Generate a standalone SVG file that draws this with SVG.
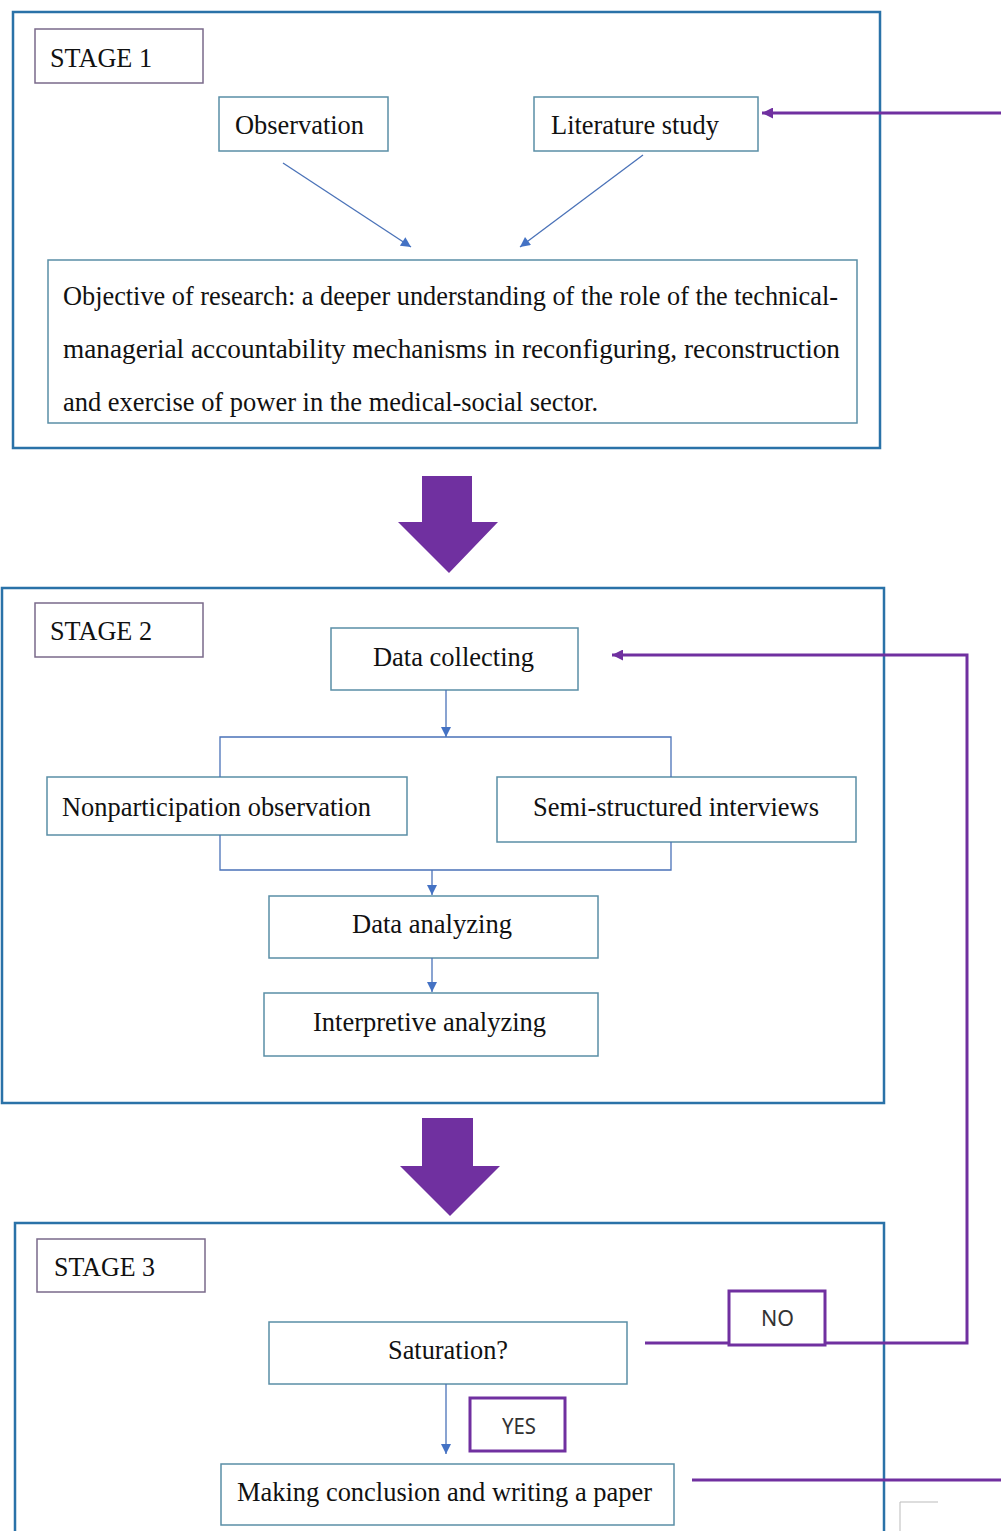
<svg xmlns="http://www.w3.org/2000/svg" width="1001" height="1531" viewBox="0 0 1001 1531">
<style>
  .stage{fill:none;stroke:#2a72a8;stroke-width:2.5}
  .lbl{fill:#fff;stroke:#7a6a8a;stroke-width:1.5}
  .node{fill:#fff;stroke:#5a8ea6;stroke-width:1.5}
  .yn{fill:#fff;stroke:#7030a0;stroke-width:3}
  .t{font-family:"Liberation Serif","Times New Roman",serif;font-size:27px;fill:#111}
  .s{font-family:"Noto Sans","Open Sans",sans-serif;font-size:22px;fill:#333}
  .con{fill:none;stroke:#4a72b8;stroke-width:1.3}
  .pur{fill:none;stroke:#7030a0;stroke-width:3}
  .big{fill:#7030a0}
</style>
<defs>
  <marker id="ab" viewBox="0 0 10 10" refX="10" refY="5" markerUnits="userSpaceOnUse" markerWidth="13" markerHeight="10" orient="auto">
    <path d="M0,0 L10,5 L0,10 z" fill="#4472c4"/>
  </marker>
  <marker id="ap" viewBox="0 0 10 10" refX="10" refY="5" markerUnits="userSpaceOnUse" markerWidth="14" markerHeight="11" orient="auto">
    <path d="M0,0 L10,5 L0,10 z" fill="#7030a0"/>
  </marker>
</defs>
<rect width="1001" height="1531" fill="#fff"/>

<g id="stage1">
  <rect class="stage" x="13" y="12" width="867" height="436"/>
  <g id="stage1-label"><rect class="lbl" x="35" y="29" width="168" height="54"/><text class="t" x="50" y="67" textLength="102" lengthAdjust="spacingAndGlyphs">STAGE 1</text></g>
  <g id="observation"><rect class="node" x="219" y="97" width="169" height="54"/><text class="t" x="235" y="134" textLength="129" lengthAdjust="spacingAndGlyphs">Observation</text></g>
  <g id="literature"><rect class="node" x="534" y="97" width="224" height="54"/><text class="t" x="551" y="134" textLength="168" lengthAdjust="spacingAndGlyphs">Literature study</text></g>
  <g id="objective"><rect class="node" x="48" y="260" width="809" height="163"/>
    <text class="t" x="63" y="305" font-size="25" textLength="775" lengthAdjust="spacingAndGlyphs">Objective of research: a deeper understanding of the role of the technical-</text>
    <text class="t" x="63" y="358" font-size="25" textLength="777" lengthAdjust="spacingAndGlyphs">managerial  accountability  mechanisms  in  reconfiguring,  reconstruction</text>
    <text class="t" x="63" y="411" font-size="25" textLength="535" lengthAdjust="spacingAndGlyphs">and exercise of power in the medical-social sector.</text>
  </g>
</g>

<g id="bigarrow1"><path class="big" d="M422,476 H472 V522 H498 L449,573 L398,522 H422 Z"/></g>

<g id="stage2">
  <rect class="stage" x="2" y="588" width="882" height="515"/>
  <g id="stage2-label"><rect class="lbl" x="35" y="603" width="168" height="54"/><text class="t" x="50" y="640" textLength="102" lengthAdjust="spacingAndGlyphs">STAGE 2</text></g>
  <g id="data-collecting"><rect class="node" x="331" y="628" width="247" height="62"/><text class="t" x="373" y="666" textLength="161" lengthAdjust="spacingAndGlyphs">Data collecting</text></g>
  <g id="nonparticipation"><rect class="node" x="47" y="777" width="360" height="58"/><text class="t" x="62" y="816" textLength="309" lengthAdjust="spacingAndGlyphs">Nonparticipation observation</text></g>
  <g id="semi-structured"><rect class="node" x="497" y="777" width="359" height="65"/><text class="t" x="533" y="816" textLength="286" lengthAdjust="spacingAndGlyphs">Semi-structured interviews</text></g>
  <g id="data-analyzing"><rect class="node" x="269" y="896" width="329" height="62"/><text class="t" x="352" y="933" textLength="160" lengthAdjust="spacingAndGlyphs">Data analyzing</text></g>
  <g id="interpretive"><rect class="node" x="264" y="993" width="334" height="63"/><text class="t" x="313" y="1031" textLength="233" lengthAdjust="spacingAndGlyphs">Interpretive analyzing</text></g>
</g>

<g id="bigarrow2"><path class="big" d="M422,1118 H473 V1166 H500 L450,1216 L400,1166 H422 Z"/></g>

<g id="stage3">
  <rect class="stage" x="15" y="1223" width="869" height="400"/>
  <g id="stage3-label"><rect class="lbl" x="37" y="1239" width="168" height="53"/><text class="t" x="54" y="1276" textLength="101" lengthAdjust="spacingAndGlyphs">STAGE 3</text></g>
  <g id="saturation"><rect class="node" x="269" y="1322" width="358" height="62"/><text class="t" x="388" y="1359" textLength="120" lengthAdjust="spacingAndGlyphs">Saturation?</text></g>
  <g id="conclusion"><rect class="node" x="221" y="1464" width="453" height="61"/><text class="t" x="237" y="1501" textLength="415" lengthAdjust="spacingAndGlyphs">Making conclusion and writing a paper</text></g>
</g>

<g id="connectors">
  <line class="con" x1="283" y1="163" x2="411" y2="247" marker-end="url(#ab)"/>
  <line class="con" x1="643" y1="155" x2="520" y2="247" marker-end="url(#ab)"/>
  <line class="con" x1="446" y1="690" x2="446" y2="737" marker-end="url(#ab)"/>
  <path class="con" d="M220,777 V737 H671 V777"/>
  <path class="con" d="M220,835 V870 H671 V842"/>
  <line class="con" x1="432" y1="870" x2="432" y2="895" marker-end="url(#ab)"/>
  <line class="con" x1="432" y1="958" x2="432" y2="992" marker-end="url(#ab)"/>
  <line class="con" x1="446" y1="1384" x2="446" y2="1454" marker-end="url(#ab)"/>
  <line class="pur" x1="1001" y1="113" x2="762" y2="113" marker-end="url(#ap)"/>
  <path class="pur" d="M645,1343 H967 V655 H612" marker-end="url(#ap)"/>
  <line class="pur" x1="692" y1="1480" x2="1001" y2="1480"/>
  <path d="M900,1531 V1502 H938" fill="none" stroke="#bbb" stroke-width="1"/>
</g>

<g id="no-label"><rect class="yn" x="729" y="1291" width="96" height="54"/><text class="s" x="761" y="1326" textLength="33" lengthAdjust="spacingAndGlyphs">NO</text></g>
<g id="yes-label"><rect class="yn" x="470" y="1398" width="95" height="53"/><text class="s" x="502" y="1434" textLength="34" lengthAdjust="spacingAndGlyphs">YES</text></g>
</svg>
